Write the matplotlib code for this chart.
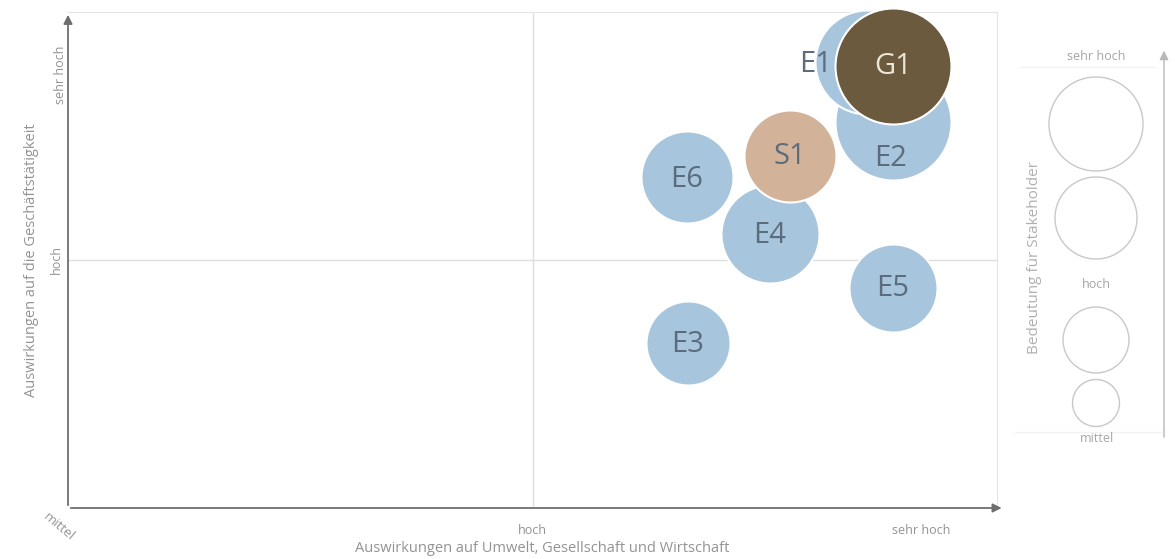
import matplotlib
matplotlib.use("Agg")
import matplotlib.pyplot as plt

plt.rcParams['font.family'] = ['Open Sans', 'DejaVu Sans']

# Wesentlichkeitsmatrix: 0 = mittel, 1 = hoch, 2 = sehr hoch
themen = ['E6', 'E3', 'E5', 'E4', 'E2', 'E1', 'S1', 'G1']
umwelt = [1.332, 1.334, 1.776, 1.511, 1.776, 1.720, 1.554, 1.776]
geschaeft = [1.335, 0.665, 0.887, 1.105, 1.556, 1.798, 1.419, 1.782]
# Bedeutung fuer Stakeholder (Blasenradius in px)
bedeutung = [46, 42, 44, 49, 58, 52, 46, 58]
farben = ['#a7c5dc'] * 6 + ['#d2b39a', '#6b5a3e']

legende_groesse = [47, 41, 33, 23.5]
achsen_stufen = ['mittel', 'hoch', 'sehr hoch']

# Beschriftungen leicht verschoben, damit sie sichtbar bleiben (px)
label_shift = {'E1': (-51, -2), 'E2': (-2, -36), 'E6': (0, -3), 'E4': (0, -2), 'E3': (0, -1)}

W, H = 1175, 559
fig = plt.figure(figsize=(W / 100, H / 100), dpi=100)

ax = fig.add_axes([68 / W, (H - 508) / H, (997 - 68) / W, (508 - 12) / H])
ax.set_xlim(0, 2)
ax.set_ylim(0, 2)
ax.set_xticks([])
ax.set_yticks([])
for s in ['top', 'right']:
    ax.spines[s].set_color('#e4e4e4')
for s in ['left', 'bottom']:
    ax.spines[s].set_visible(False)

ax.axvline(1, color='#dedede', lw=1, zorder=0)
ax.axhline(1, color='#dedede', lw=1, zorder=0)

# Achsenpfeile
ax.annotate('', xy=(1.008, 0), xytext=(0, 0), xycoords='axes fraction',
            arrowprops=dict(arrowstyle='-|>', color='#6e6e6e', lw=1.3, mutation_scale=13),
            annotation_clip=False)
ax.annotate('', xy=(0, 1.0), xytext=(0, 0), xycoords='axes fraction',
            arrowprops=dict(arrowstyle='-|>', color='#6e6e6e', lw=1.3, mutation_scale=13),
            annotation_clip=False)

for i in range(len(themen)):
    r = bedeutung[i]
    size = (2 * r * 0.72) ** 2
    ax.scatter(umwelt[i], geschaeft[i], s=size, color=farben[i],
               edgecolor='white', linewidth=1.5, zorder=2 + i, clip_on=False)
    dx, dy = label_shift.get(themen[i], (0, 0))
    tc = '#ece4d6' if themen[i] == 'G1' else '#5b6c7c'
    ax.annotate(themen[i], (umwelt[i], geschaeft[i]), xytext=(dx * 0.72, dy * 0.72),
                textcoords='offset points', ha='center', va='center',
                fontsize=21, color=tc, zorder=20 if themen[i] == 'G1' else 12)

# Achsenbeschriftungen
grau = '#939393'
ax.text(1.0, -0.09, achsen_stufen[1], ha='center', va='center', fontsize=9, color=grau)
ax.text(1.836, -0.09, achsen_stufen[2], ha='center', va='center', fontsize=9, color=grau)
ax.text(-0.02, -0.075, achsen_stufen[0], ha='center', va='center', fontsize=9.5,
        color=grau, rotation=-40)
ax.text(-0.01, 1.0, achsen_stufen[1], ha='right', va='center', fontsize=9,
        color=grau, rotation=90)
ax.text(-0.003, 1.746, achsen_stufen[2], ha='right', va='center', fontsize=9,
        color=grau, rotation=90)
ax.text(1.02, -0.165, 'Auswirkungen auf Umwelt, Gesellschaft und Wirtschaft',
        ha='center', va='center', fontsize=10.5, color=grau)
ax.text(-0.078, 1.0, 'Auswirkungen auf die Geschäftstätigkeit', ha='center',
        va='center', fontsize=10.5, color=grau, rotation=90)

# Legende Stakeholder
lx = fig.add_axes([1010 / W, 0, 165 / W, 1])
lx.set_xlim(1010, 1175)
lx.set_ylim(H, 0)
lx.axis('off')
mitten = [124, 218, 340, 403]
for g, yy in zip(legende_groesse, mitten):
    lx.scatter(1096, yy, s=(2 * g * 0.72) ** 2, facecolor='none',
               edgecolor='#c8c8c8', linewidth=1)
lx.plot([1020, 1155], [67, 67], color='#f3f3f3', lw=1)
lx.plot([1015, 1162], [432, 432], color='#f3f3f3', lw=1)
lx.annotate('', xy=(1164, 48), xytext=(1164, 440), xycoords='data',
            arrowprops=dict(arrowstyle='-|>', color='#b8b8b8', lw=1, mutation_scale=13))
lx.text(1096, 57, achsen_stufen[2], ha='center', va='center', fontsize=9, color='#a5a5a5')
lx.text(1096, 285, achsen_stufen[1], ha='center', va='center', fontsize=9, color='#a5a5a5')
lx.text(1097, 438, achsen_stufen[0], ha='center', va='center', fontsize=9, color='#a5a5a5')
lx.text(1035, 258, 'Bedeutung für Stakeholder', ha='center', va='center',
        fontsize=11, color='#b0b0b0', rotation=90)

fig.savefig('out.png', dpi=100, facecolor='white')
